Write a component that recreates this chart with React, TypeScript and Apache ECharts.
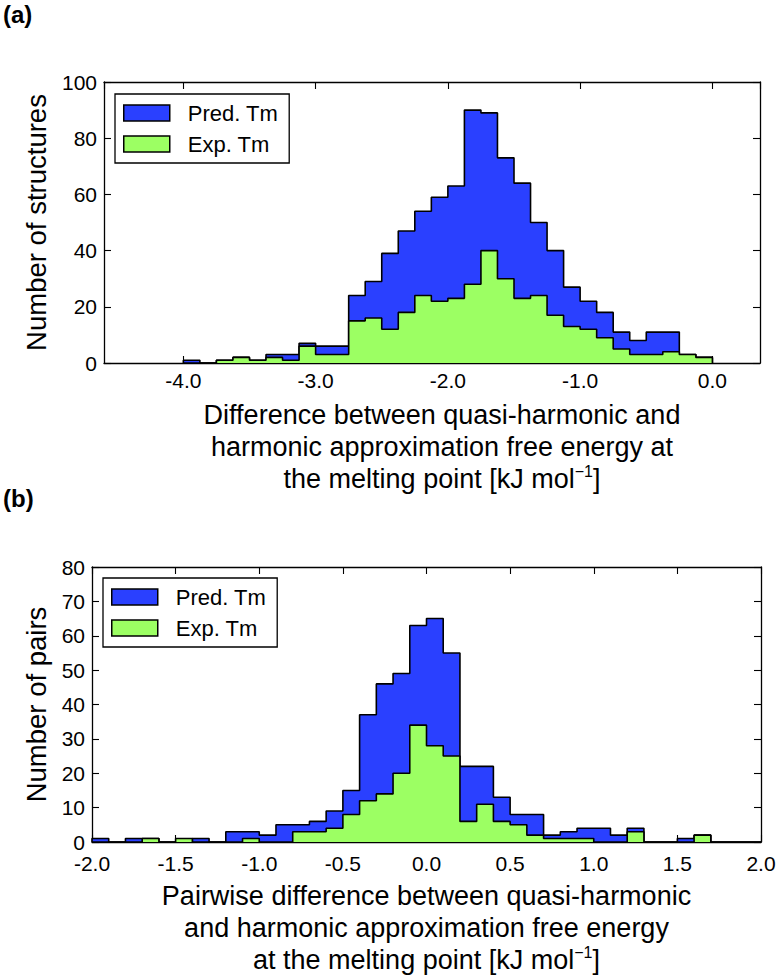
import React, { useEffect, useRef } from 'react';
import * as echarts from 'echarts';

const FONT = '"Liberation Sans", Arial, Helvetica, sans-serif';
const BLUE = '#2a40ff';
const GREEN = '#9cff63';
const EDGE = '#000000';

const seriesNames = ['Pred. Tm', 'Exp. Tm'];

// Panel (a): histogram bins of 0.125 starting at -4.0
const topBinStart = -4.0;
const topBinWidth = 0.125;
const topPred = [1, 0, 1, 2, 1, 3, 3, 7, 6, 6, 24, 29, 39, 47, 54, 59, 63, 90, 89, 73, 64, 50, 40, 27, 22, 18, 11, 8, 11, 11, 3, 2];
const topExp = [0, 0, 1, 2, 1, 2, 1, 6, 3, 3, 15, 16, 12, 18, 24, 22, 23, 28, 40, 30, 23, 24, 17, 13, 12, 9, 5, 3, 3, 4, 3, 2];
const topXRange = [-4.6, 0.36];
const topYRange = [0, 100];
const topYStep = 20;

// Panel (b): histogram bins of 0.1 starting at -2.0
const botBinStart = -2.0;
const botBinWidth = 0.1;
const botPred = [1, 0, 1, 1, 0, 0, 1, 0, 3, 3, 2, 5, 5, 6, 9, 15, 37, 46, 49, 63, 65, 55, 22, 22, 13, 8, 8, 2, 3, 4, 4, 2, 4, 0, 0, 1, 2, 0, 0, 0];
const botExp = [0, 0, 0, 1, 0, 1, 0, 0, 0, 1, 0, 0, 3, 3, 4, 8, 12, 14, 20, 34, 28, 25, 6, 11, 6, 5, 2, 1, 1, 1, 0, 0, 3, 0, 0, 0, 2, 0, 0, 0];
const botXRange = [-2.0, 2.0];
const botXStep = 0.5;
const botYRange = [0, 80];
const botYStep = 10;

const topXTitle = 'Difference between quasi-harmonic and\nharmonic approximation free energy at\nthe melting point [kJ mol{sup|\u22121}]';
const topYTitle = 'Number of structures';
const botXTitle = 'Pairwise difference between quasi-harmonic\nand harmonic approximation free energy\nat the melting point [kJ mol{sup|\u22121}]';
const botYTitle = 'Number of pairs';

function r6(v: number) {
  return Math.round(v * 1e6) / 1e6;
}

function stepData(start: number, width: number, counts: number[]) {
  const pts: number[][] = [[start, 0]];
  counts.forEach((c, i) => pts.push([r6(start + i * width), c]));
  const end = r6(start + counts.length * width);
  pts.push([end, counts[counts.length - 1]]);
  pts.push([end, 0]);
  return pts;
}

const axisLineStyle = { show: true, onZero: false, lineStyle: { color: EDGE, width: 1.3 } };
const tickStyle = { show: true, inside: true, length: 7, lineStyle: { color: EDGE, width: 1.1 } };
const labelStyle = { color: '#000', fontSize: 21, lineHeight: 16, fontFamily: FONT };
const supStyle = { fontSize: 16, fontFamily: FONT, color: '#000', verticalAlign: 'top', lineHeight: 32, padding: [0, 0, 6, 0] };
const nameStyleTop = {
  color: '#000', fontSize: 27, lineHeight: 32, fontFamily: FONT, padding: [0, 0, 0, 20],
  rich: { sup: supStyle },
};
const nameStyleBot = {
  color: '#000', fontSize: 27, lineHeight: 32, fontFamily: FONT,
  rich: { sup: supStyle },
};
const yNameStyle = { color: '#000', fontSize: 27.5, fontFamily: FONT };
const fmt1 = (v: number) => (Math.abs(v) < 1e-9 ? '0.0' : v.toFixed(1));

function histSeries(name: string, data: number[][], color: string, xi: number, yi: number, z: number) {
  return {
    type: 'line',
    name,
    xAxisIndex: xi,
    yAxisIndex: yi,
    step: 'end',
    data,
    symbol: 'none',
    showSymbol: false,
    z,
    itemStyle: { color },
    lineStyle: { color: EDGE, width: 1.6 },
    areaStyle: { color, opacity: 1 },
    emphasis: { disabled: true },
  };
}

function legendFor(left: number, top: number) {
  return {
    orient: 'vertical',
    left,
    top,
    icon: 'rect',
    itemWidth: 46,
    itemHeight: 16,
    itemGap: 9,
    padding: [8, 11, 8, 8],
    borderColor: EDGE,
    borderWidth: 1.3,
    backgroundColor: '#fff',
    selectedMode: false,
    textStyle: { color: '#000', fontSize: 22, fontFamily: FONT, padding: [0, 0, 0, 13] },
    data: [
      { name: seriesNames[0], itemStyle: { color: BLUE, borderColor: EDGE, borderWidth: 1.5 } },
      { name: seriesNames[1], itemStyle: { color: GREEN, borderColor: EDGE, borderWidth: 1.5 } },
    ],
  };
}

export default function App() {
  const ref = useRef<HTMLDivElement>(null);
  useEffect(() => {
    if (!ref.current) return;
    const chart = echarts.init(ref.current, undefined, { renderer: 'svg' });
    const option: any = {
      animation: false,
      backgroundColor: '#fff',
      textStyle: { fontFamily: FONT },
      grid: [
        { left: 104, top: 82, width: 656, height: 281 },
        { left: 92, top: 567, width: 669, height: 280 },
      ],
      xAxis: [
        {
          type: 'value', gridIndex: 0, position: 'bottom', min: topXRange[0], max: topXRange[1], splitNumber: 5,
          axisLine: axisLineStyle, axisTick: tickStyle, splitLine: { show: false },
          axisLabel: { ...labelStyle, margin: 9, showMinLabel: false, showMaxLabel: false, formatter: fmt1 },
          name: topXTitle, nameLocation: 'middle', nameGap: 36, nameTextStyle: nameStyleTop,
        },
        {
          type: 'value', gridIndex: 0, position: 'top', min: topXRange[0], max: topXRange[1], splitNumber: 5,
          axisLine: axisLineStyle, axisTick: tickStyle, splitLine: { show: false }, axisLabel: { show: false },
        },
        {
          type: 'value', gridIndex: 1, position: 'bottom', min: botXRange[0], max: botXRange[1], interval: botXStep,
          axisLine: axisLineStyle, axisTick: tickStyle, splitLine: { show: false },
          axisLabel: { ...labelStyle, margin: 13, formatter: fmt1 },
          name: botXTitle, nameLocation: 'middle', nameGap: 38, nameTextStyle: nameStyleBot,
        },
        {
          type: 'value', gridIndex: 1, position: 'top', min: botXRange[0], max: botXRange[1], interval: botXStep,
          axisLine: axisLineStyle, axisTick: tickStyle, splitLine: { show: false }, axisLabel: { show: false },
        },
      ],
      yAxis: [
        {
          type: 'value', gridIndex: 0, position: 'left', min: topYRange[0], max: topYRange[1], interval: topYStep,
          axisLine: axisLineStyle, axisTick: tickStyle, splitLine: { show: false },
          axisLabel: { ...labelStyle, margin: 7 },
          name: topYTitle, nameLocation: 'middle', nameGap: 54, nameTextStyle: yNameStyle,
        },
        {
          type: 'value', gridIndex: 0, position: 'right', min: topYRange[0], max: topYRange[1], interval: topYStep,
          axisLine: axisLineStyle, axisTick: tickStyle, splitLine: { show: false }, axisLabel: { show: false },
        },
        {
          type: 'value', gridIndex: 1, position: 'left', min: botYRange[0], max: botYRange[1], interval: botYStep,
          axisLine: axisLineStyle, axisTick: tickStyle, splitLine: { show: false },
          axisLabel: { ...labelStyle, margin: 7 },
          name: botYTitle, nameLocation: 'middle', nameGap: 42, nameTextStyle: yNameStyle,
        },
        {
          type: 'value', gridIndex: 1, position: 'right', min: botYRange[0], max: botYRange[1], interval: botYStep,
          axisLine: axisLineStyle, axisTick: tickStyle, splitLine: { show: false }, axisLabel: { show: false },
        },
      ],
      legend: [legendFor(115, 94), legendFor(103, 578)],
      series: [
        histSeries(seriesNames[0], stepData(topBinStart, topBinWidth, topPred), BLUE, 0, 0, 2),
        histSeries(seriesNames[1], stepData(topBinStart, topBinWidth, topExp), GREEN, 0, 0, 3),
        histSeries(seriesNames[0], stepData(botBinStart, botBinWidth, botPred), BLUE, 2, 2, 2),
        histSeries(seriesNames[1], stepData(botBinStart, botBinWidth, botExp), GREEN, 2, 2, 3),
      ],
      graphic: [
        { type: 'text', left: 3, top: 2, style: { text: '(a)', fontSize: 24, fontWeight: 'bold', fontFamily: FONT, fill: '#000' } },
        { type: 'text', left: 3, top: 486, style: { text: '(b)', fontSize: 24, fontWeight: 'bold', fontFamily: FONT, fill: '#000' } },
      ],
    };
    chart.setOption(option);
    return () => chart.dispose();
  }, []);
  return <div ref={ref} style={{ position: 'fixed', left: 0, top: 0, width: 780, height: 977, background: '#fff' }} />;
}
